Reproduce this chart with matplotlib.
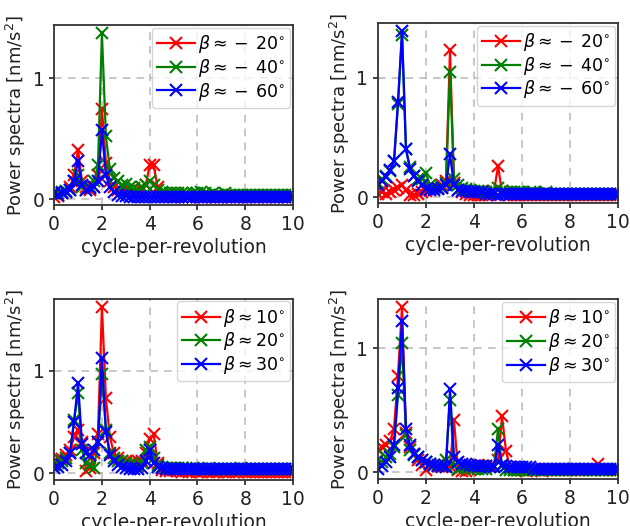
import numpy as np
import matplotlib
matplotlib.use('Agg')
import matplotlib.pyplot as plt

# frequency axis (cycle-per-revolution), step 1/6
cpr = np.linspace(0, 10, 61)

# tail values from 5.5 to 10 cpr are written out per series
# top left: beta ~ -20, -40, -60
tl_m20 = [0.02, 0.03, 0.05, 0.06, 0.10, 0.20, 0.41, 0.15, 0.10, 0.08, 0.10, 0.20, 0.75,
          0.30, 0.15, 0.10, 0.08, 0.07, 0.08, 0.07, 0.06, 0.06, 0.08, 0.12, 0.28, 0.28,
          0.10, 0.05, 0.03, 0.03, 0.02, 0.03,
          0.02, 0.03, 0.02, 0.02, 0.03, 0.02, 0.02, 0.03, 0.02, 0.02, 0.02, 0.03, 0.02,
          0.02, 0.02, 0.03, 0.02, 0.02, 0.02, 0.02, 0.03, 0.02, 0.02, 0.02, 0.02, 0.03,
          0.02, 0.02, 0.02]
tl_m40 = [0.05, 0.05, 0.06, 0.07, 0.08, 0.15, 0.20, 0.10, 0.08, 0.10, 0.15, 0.28, 1.37,
          0.52, 0.25, 0.18, 0.15, 0.12, 0.13, 0.10, 0.09, 0.08, 0.10, 0.12, 0.15, 0.12,
          0.08, 0.06, 0.05, 0.05, 0.05, 0.05,
          0.05, 0.05, 0.04, 0.05, 0.05, 0.06, 0.05, 0.04, 0.05, 0.04, 0.04, 0.05, 0.04,
          0.04, 0.04, 0.04, 0.04, 0.04, 0.04, 0.04, 0.04, 0.04, 0.04, 0.04, 0.04, 0.04,
          0.04, 0.04, 0.04]
tl_m60 = [0.05, 0.04, 0.05, 0.06, 0.08, 0.15, 0.32, 0.12, 0.08, 0.09, 0.10, 0.15, 0.57,
          0.20, 0.10, 0.06, 0.04, 0.03, 0.03, 0.02, 0.02, 0.02, 0.02, 0.02, 0.02, 0.02,
          0.02, 0.02, 0.02, 0.02, 0.02, 0.02,
          0.02, 0.02, 0.02, 0.02, 0.02, 0.02, 0.02, 0.02, 0.02, 0.02, 0.02, 0.02, 0.02,
          0.02, 0.02, 0.02, 0.02, 0.02, 0.02, 0.02, 0.02, 0.02, 0.02, 0.02, 0.02, 0.02,
          0.02, 0.02, 0.02]

# top right: beta ~ -20, -40, -60
tr_m20 = [0.03, 0.04, 0.03, 0.04, 0.06, 0.08, 0.10, 0.06, 0.02, 0.02, 0.03, 0.04, 0.05,
          0.07, 0.08, 0.08, 0.10, 0.14, 1.23, 0.12, 0.06, 0.04, 0.03, 0.02, 0.02, 0.02,
          0.02, 0.02, 0.02, 0.05, 0.26, 0.05,
          0.02, 0.02, 0.02, 0.02, 0.02, 0.02, 0.02, 0.02, 0.02, 0.02, 0.02, 0.02, 0.02,
          0.02, 0.02, 0.02, 0.02, 0.02, 0.02, 0.02, 0.02, 0.02, 0.02, 0.02, 0.02, 0.02,
          0.02, 0.02, 0.02]
tr_m40 = [0.12, 0.15, 0.18, 0.22, 0.30, 0.78, 1.36, 0.40, 0.25, 0.18, 0.15, 0.15, 0.20,
          0.10, 0.08, 0.08, 0.09, 0.12, 1.05, 0.15, 0.10, 0.08, 0.07, 0.06, 0.05, 0.05,
          0.05, 0.04, 0.04, 0.04, 0.08, 0.05,
          0.04, 0.04, 0.04, 0.04, 0.04, 0.03, 0.04, 0.04, 0.03, 0.03, 0.04, 0.03, 0.03,
          0.03, 0.03, 0.03, 0.03, 0.03, 0.03, 0.03, 0.03, 0.03, 0.03, 0.03, 0.03, 0.03,
          0.03, 0.03, 0.03]
tr_m60 = [0.10, 0.14, 0.17, 0.23, 0.30, 0.80, 1.39, 0.40, 0.24, 0.18, 0.14, 0.10, 0.07,
          0.06, 0.06, 0.07, 0.08, 0.10, 0.36, 0.10, 0.06, 0.05, 0.05, 0.04, 0.04, 0.04,
          0.04, 0.03, 0.03, 0.03, 0.02, 0.03,
          0.03, 0.03, 0.03, 0.03, 0.03, 0.03, 0.03, 0.03, 0.03, 0.03, 0.03, 0.03, 0.03,
          0.03, 0.03, 0.03, 0.03, 0.03, 0.03, 0.03, 0.03, 0.03, 0.03, 0.03, 0.03, 0.03,
          0.03, 0.03, 0.03]

# bottom left: beta ~ 10, 20, 30
bl_10 = [0.12, 0.15, 0.14, 0.18, 0.22, 0.35, 0.42, 0.30, 0.02, 0.05, 0.20, 0.38, 1.62,
         0.73, 0.35, 0.20, 0.15, 0.12, 0.12, 0.10, 0.10, 0.12, 0.12, 0.20, 0.33, 0.38,
         0.10, 0.03, 0.02, 0.02, 0.03, 0.02,
         0.01, 0.02, 0.01, 0.02, 0.01, 0.01, 0.02, 0.01, 0.01, 0.01, 0.02, 0.01, 0.01,
         0.01, 0.01, 0.02, 0.01, 0.01, 0.01, 0.01, 0.01, 0.01, 0.01, 0.01, 0.01, 0.01,
         0.01, 0.01, 0.01]
bl_20 = [0.08, 0.10, 0.12, 0.15, 0.20, 0.52, 0.78, 0.22, 0.10, 0.08, 0.05, 0.30, 0.97,
         0.42, 0.20, 0.15, 0.12, 0.12, 0.10, 0.08, 0.08, 0.07, 0.10, 0.22, 0.25, 0.15,
         0.08, 0.06, 0.05, 0.05, 0.05, 0.05,
         0.05, 0.05, 0.04, 0.05, 0.04, 0.04, 0.04, 0.05, 0.04, 0.04, 0.04, 0.04, 0.04,
         0.04, 0.04, 0.05, 0.04, 0.04, 0.04, 0.04, 0.04, 0.04, 0.04, 0.04, 0.04, 0.04,
         0.04, 0.04, 0.04]
bl_30 = [0.05, 0.06, 0.08, 0.12, 0.20, 0.50, 0.88, 0.28, 0.20, 0.18, 0.22, 0.30, 1.12,
         0.40, 0.18, 0.12, 0.08, 0.06, 0.05, 0.04, 0.04, 0.04, 0.05, 0.12, 0.22, 0.10,
         0.06, 0.05, 0.04, 0.04, 0.04, 0.04,
         0.04, 0.04, 0.04, 0.04, 0.04, 0.04, 0.04, 0.04, 0.04, 0.04, 0.04, 0.04, 0.04,
         0.04, 0.04, 0.04, 0.04, 0.04, 0.04, 0.04, 0.04, 0.04, 0.04, 0.04, 0.04, 0.04,
         0.04, 0.04, 0.04]

# bottom right: beta ~ 10, 20, 30
br_10 = [0.18, 0.20, 0.22, 0.25, 0.35, 0.78, 1.33, 0.32, 0.20, 0.15, 0.10, 0.06, 0.02,
         0.05, 0.06, 0.05, 0.04, 0.05, 0.05, 0.42, 0.02, 0.01, 0.01, 0.02, 0.05, 0.06,
         0.05, 0.05, 0.05, 0.05, 0.10, 0.45, 0.17, 0.04,
         0.02, 0.02, 0.02, 0.01, 0.02, 0.02, 0.02, 0.01, 0.02, 0.02, 0.02, 0.02, 0.02,
         0.02, 0.02, 0.02, 0.02, 0.02, 0.02, 0.02, 0.02, 0.07, 0.02, 0.02, 0.02, 0.02,
         0.02]
br_20 = [0.10, 0.08, 0.12, 0.15, 0.20, 0.62, 1.04, 0.30, 0.18, 0.14, 0.12, 0.10, 0.08,
         0.07, 0.06, 0.06, 0.05, 0.10, 0.58, 0.05, 0.03, 0.04, 0.04, 0.04, 0.03, 0.03,
         0.03, 0.03, 0.04, 0.05, 0.35, 0.05,
         0.02, 0.02, 0.02, 0.02, 0.02, 0.02, 0.02, 0.02, 0.02, 0.02, 0.02, 0.02, 0.02,
         0.02, 0.02, 0.02, 0.02, 0.03, 0.02, 0.02, 0.02, 0.02, 0.02, 0.02, 0.02, 0.02,
         0.02, 0.02, 0.02]
br_30 = [0.03, 0.05, 0.08, 0.12, 0.22, 0.68, 1.22, 0.35, 0.22, 0.15, 0.12, 0.10, 0.08,
         0.07, 0.06, 0.05, 0.05, 0.04, 0.67, 0.12, 0.08, 0.07, 0.07, 0.06, 0.05, 0.05,
         0.05, 0.05, 0.04, 0.04, 0.22, 0.06,
         0.05, 0.04, 0.04, 0.04, 0.04, 0.04, 0.04, 0.03, 0.03, 0.03, 0.03, 0.03, 0.03,
         0.03, 0.03, 0.03, 0.03, 0.03, 0.03, 0.03, 0.03, 0.03, 0.03, 0.03, 0.03, 0.03,
         0.03, 0.03, 0.03]

neg_labels = [r'$\beta \approx -\:20^{\circ}$', r'$\beta \approx -\:40^{\circ}$',
              r'$\beta \approx -\:60^{\circ}$']
pos_labels = [r'$\beta \approx 10^{\circ}$', r'$\beta \approx 20^{\circ}$', r'$\beta \approx 30^{\circ}$']
colors = ['red', 'green', 'blue']

fig = plt.figure(figsize=(6.3, 5.26), dpi=100)
positions = [[0.086, 0.610, 0.379, 0.342], [0.600, 0.614, 0.381, 0.342],
             [0.086, 0.087, 0.379, 0.345], [0.600, 0.089, 0.381, 0.342]]
panels = [([tl_m20, tl_m40, tl_m60], neg_labels), ([tr_m20, tr_m40, tr_m60], neg_labels),
          ([bl_10, bl_20, bl_30], pos_labels), ([br_10, br_20, br_30], pos_labels)]

for pos, (series, labels) in zip(positions, panels):
    ax = fig.add_axes(pos)
    for vals, lab, c in zip(series, labels, colors):
        ax.plot(cpr[:len(vals)], vals, 'x-', color=c, label=lab, markersize=8.5,
                markeredgewidth=1.5, linewidth=1.6)
    ax.set_xlim(0, 10)
    ax.set_xticks([0, 2, 4, 6, 8, 10])
    ax.set_yticks([0, 1])
    ax.tick_params(labelsize=13.5, width=1.2, length=3.5, colors='#222222')
    for sp in ax.spines.values():
        sp.set_linewidth(1.3)
        sp.set_color('#333333')
    ax.grid(linestyle=(0, (5, 4)), color='#b8b8b8', linewidth=1.1)
    ax.set_xlabel('cycle-per-revolution', fontsize=13.5, color='#222222', labelpad=3)
    ax.set_ylabel(r'Power spectra [nm/s$^2$]', fontsize=13, color='#222222', labelpad=3)
    ax.legend(loc='upper right', fontsize=12.5, borderaxespad=0.15, handletextpad=0.15,
              labelspacing=0.1, borderpad=0.3, handlelength=2.2)

fig.savefig('out.png', dpi=100)
